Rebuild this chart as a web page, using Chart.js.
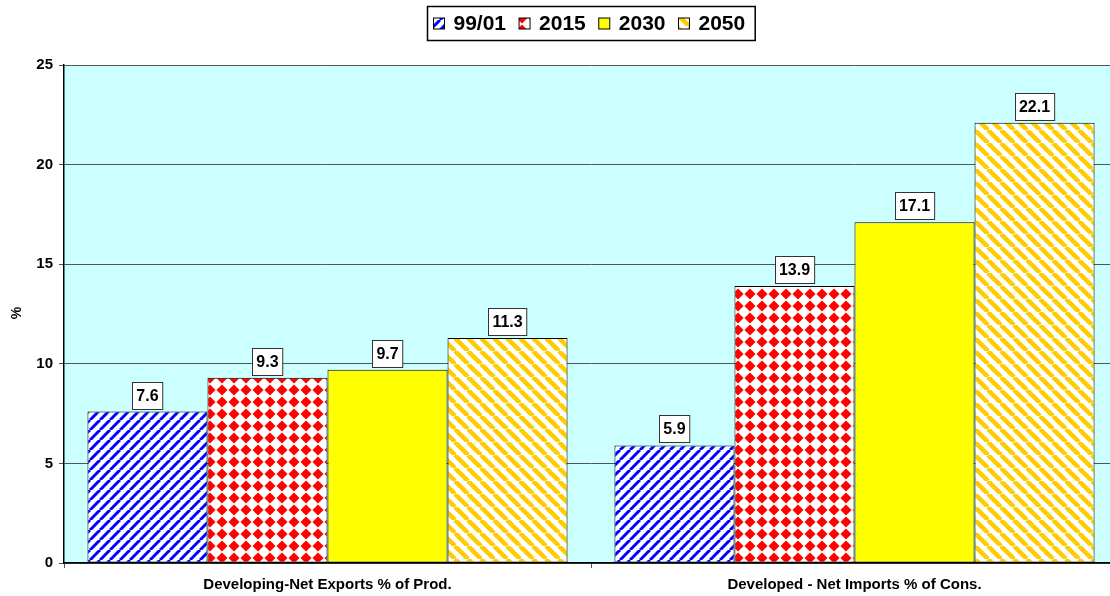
<!DOCTYPE html>
<html>
<head>
<meta charset="utf-8">
<script src="https://cdn.jsdelivr.net/npm/chart.js@4"></script>
<style>
  html, body { margin: 0; padding: 0; background: #ffffff; overflow: hidden; }
  #wrap { width: 1110px; height: 596px; overflow: hidden; }
</style>
</head>
<body>
<div id="wrap"><canvas id="chart" width="1120" height="596"></canvas></div>
<script>
const categories = ["Developing-Net Exports % of Prod.", "Developed - Net Imports % of Cons."];
const seriesNames = ["99/01", "2015", "2030", "2050"];
const values9901 = [7.6, 5.9];
const values2015 = [9.3, 13.9];
const values2030 = [9.7, 17.1];
const values2050 = [11.3, 22.1];
const yTicks = [0, 5, 10, 15, 20, 25];

const ctx = document.getElementById("chart").getContext("2d");

// small tiles used as bar fills
const makePattern = (size, draw) => {
  const c = document.createElement("canvas");
  c.width = size;
  c.height = size;
  const t = c.getContext("2d");
  t.fillStyle = "#ffffff";
  t.fillRect(0, 0, size, size);
  draw(t, size);
  return ctx.createPattern(c, "repeat");
};

const blueStripes = makePattern(10, (t, s) => {
  t.strokeStyle = "#0000ff";
  t.lineWidth = 3;
  for (let k = -1; k <= 1; k++) {
    t.beginPath();
    t.moveTo(k * s, s);
    t.lineTo(k * s + s, 0);
    t.stroke();
  }
});

const redDiamonds = makePattern(12, (t, s) => {
  t.fillStyle = "#ff0000";
  t.beginPath();
  t.moveTo(6, 0.5);
  t.lineTo(11.5, 6);
  t.lineTo(6, 11.5);
  t.lineTo(0.5, 6);
  t.closePath();
  t.fill();
});

const orangeStripes = makePattern(13, (t, s) => {
  t.strokeStyle = "#ffcc00";
  t.lineWidth = 4.5;
  for (let k = -1; k <= 1; k++) {
    t.beginPath();
    t.moveTo(k * s, 0);
    t.lineTo(k * s + s, s);
    t.stroke();
  }
});

const fills = [blueStripes, redDiamonds, "#ffff00", orangeStripes];
const allValues = [values9901, values2015, values2030, values2050];

const plotBackground = {
  id: "plotBackground",
  beforeDraw(chart) {
    const a = chart.chartArea;
    const c = chart.ctx;
    c.save();
    c.fillStyle = "#ccffff";
    c.fillRect(a.left, a.top, a.right - a.left, a.bottom - a.top);
    c.restore();
  }
};

const valueBoxes = {
  id: "valueBoxes",
  afterDatasetsDraw(chart) {
    const c = chart.ctx;
    c.save();
    c.font = "bold 16px Arial, 'Liberation Sans', sans-serif";
    c.textAlign = "center";
    c.textBaseline = "middle";
    chart.data.datasets.forEach((ds, i) => {
      chart.getDatasetMeta(i).data.forEach((bar, j) => {
        const txt = ds.data[j].toFixed(1);
        const w = c.measureText(txt).width + 8;
        const h = 27;
        const x = Math.round(bar.x - w / 2) + 0.5;
        const y = Math.round(bar.y - 3 - h) + 0.5;
        c.fillStyle = "#ffffff";
        c.fillRect(x, y, w, h);
        c.strokeStyle = "#333333";
        c.lineWidth = 1;
        c.strokeRect(x, y, w, h);
        c.fillStyle = "#000000";
        c.fillText(txt, bar.x, y + h / 2 + 1);
      });
    });
    c.restore();
  }
};

const legendBox = {
  id: "legendBox",
  afterDraw(chart) {
    const c = chart.ctx;
    const a = chart.chartArea;
    c.save();
    c.font = "bold 21px Arial, 'Liberation Sans', sans-serif";
    c.textBaseline = "middle";
    const sw = 11, gapText = 9, gapItem = 13;
    const widths = seriesNames.map(n => c.measureText(n).width);
    let inner = 0;
    widths.forEach((w, i) => { inner += sw + gapText + w + (i > 0 ? gapItem : 0); });
    const boxW = inner + 16;
    const boxL = Math.round((a.left + a.right) / 2 - boxW / 2) + 0.5;
    const boxT = 6.5, boxH = 34;
    c.fillStyle = "#ffffff";
    c.fillRect(boxL, boxT, boxW, boxH);
    c.strokeStyle = "#000000";
    c.lineWidth = 1.5;
    c.strokeRect(boxL, boxT, boxW, boxH);
    let x = boxL + 6;
    const cy = boxT + boxH / 2;
    seriesNames.forEach((n, i) => {
      c.fillStyle = fills[i];
      c.fillRect(x, cy - 5.5, sw, sw);
      c.strokeStyle = "#000000";
      c.lineWidth = 1;
      c.strokeRect(x, cy - 5.5, sw, sw);
      x += sw + gapText;
      c.fillStyle = "#000000";
      c.fillText(n, x, cy + 1);
      x += widths[i] + gapItem;
    });
    // y axis title
    c.font = "bold 14px Arial, 'Liberation Sans', sans-serif";
    c.translate(17, 313);
    c.rotate(-Math.PI / 2);
    c.textAlign = "center";
    c.fillText("%", 0, 0);
    c.restore();
  }
};

new Chart(ctx, {
  type: "bar",
  data: {
    labels: categories,
    datasets: seriesNames.map((name, i) => ({
      label: name,
      data: allValues[i],
      backgroundColor: fills[i],
      borderColor: "#000000",
      borderWidth: 1,
      borderSkipped: false,
      categoryPercentage: 0.911,
      barPercentage: 1.0
    }))
  },
  options: {
    responsive: false,
    animation: false,
    layout: { padding: { top: 65, right: 2, left: 0, bottom: 0 } },
    plugins: {
      legend: { display: false },
      tooltip: { enabled: false }
    },
    scales: {
      x: {
        grid: {
          drawOnChartArea: false,
          drawTicks: true,
          tickLength: 5,
          color: "#555555",
          offset: true
        },
        border: { color: "#000000", width: 1.5 },
        ticks: {
          color: "#000000",
          font: { family: "Arial, 'Liberation Sans', sans-serif", size: 15, weight: "bold" },
          padding: 8,
          maxRotation: 0
        },
        afterFit(scale) { scale.height = 33; }
      },
      y: {
        min: 0,
        max: 25,
        afterBuildTicks(scale) { scale.ticks = yTicks.map(v => ({ value: v })); },
        grid: {
          color: "#555555",
          lineWidth: 1,
          drawTicks: true,
          tickLength: 5
        },
        border: { color: "#000000", width: 1.5 },
        ticks: {
          color: "#000000",
          font: { family: "Arial, 'Liberation Sans', sans-serif", size: 15, weight: "bold" },
          padding: 6
        },
        afterFit(scale) { scale.width = 64; }
      }
    }
  },
  plugins: [plotBackground, valueBoxes, legendBox]
});
</script>
</body>
</html>
